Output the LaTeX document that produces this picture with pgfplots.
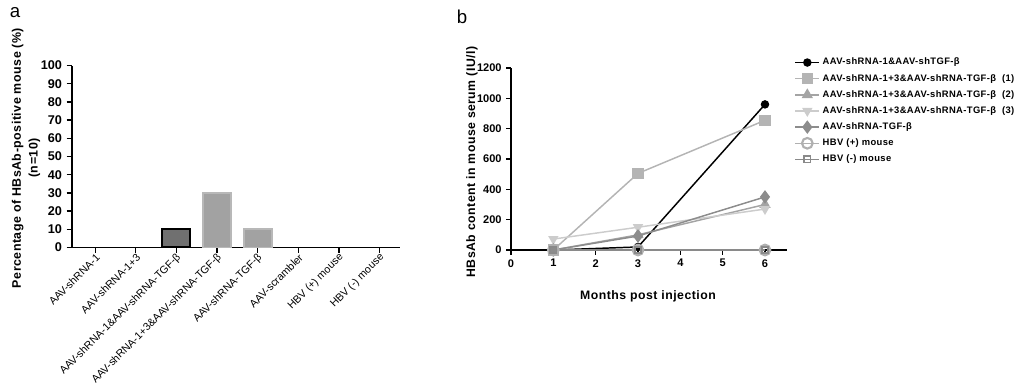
\documentclass[border=0pt]{standalone}
\usepackage{pgfplots}
\pgfplotsset{compat=1.18}
\usepackage{fontspec}
\setmainfont{Liberation Sans}
\newfontfamily\spaced[LetterSpace=4]{Liberation Sans}
\definecolor{barA}{HTML}{707070}
\definecolor{barB}{HTML}{A2A2A2}
\definecolor{barBe}{HTML}{B8B8B8}
\definecolor{sB}{HTML}{B4B4B4}
\definecolor{sC}{HTML}{A4A4A4}
\definecolor{sD}{HTML}{CCCCCC}
\definecolor{sE}{HTML}{8C8C8C}
\definecolor{sF}{HTML}{B0B0B0}
\definecolor{sG}{HTML}{8A8A8A}
\begin{document}
\begin{tikzpicture}
\path[use as bounding box] (0,0) rectangle (762.75pt,294pt);
\node[font=\fontsize{14}{16}\selectfont] at (11.25pt,284.25pt) {a};
\node[font=\fontsize{14}{16}\selectfont] at (346.5pt,281.25pt) {b};
\node[rotate=90,align=center,font=\fontsize{9.3}{12.5}\selectfont\spaced\bfseries] at (19.5pt,175.5pt) {Percentage of HBsAb-positive mouse (\%)\\(n=10)};
\node[rotate=90,font=\fontsize{9.2}{10}\selectfont\spaced\bfseries] at (354pt,172.5pt) {HBsAb content in mouse serum (IU/l)};
\node[font=\fontsize{9.2}{10}\selectfont\spaced\bfseries] at (486pt,72pt) {Months post injection};

% Panel a
\begin{axis}[
  at={(54pt,108.4pt)}, anchor=south west,
  scale only axis, width=246pt, height=136.4pt,
  xmin=-0.57, xmax=7.5, ymin=0, ymax=100,
  axis x line*=bottom, axis y line*=left,
  axis line style={line width=1.2pt,-},
  tick style={line width=1pt,black}, tick align=outside,
  major tick length=4pt,
  ytick={0,10,...,100},
  xtick={0,1,2,3,4,5,6,7},
  xticklabels={AAV-shRNA-1,AAV-shRNA-1+3,AAV-shRNA-1\&AAV-shRNA-TGF-β,AAV-shRNA-1+3\&AAV-shRNA-TGF-β,AAV-shRNA-TGF-β,AAV-scrambler,HBV (+) mouse,HBV (-) mouse},
  xticklabel style={rotate=45,anchor=east,font=\fontsize{8}{9}\selectfont,inner sep=1pt,yshift=-3pt,xshift=1pt},
  yticklabel style={font=\fontsize{9.5}{10}\selectfont\bfseries},
  /pgf/number format/assume math mode=true,
  ybar, bar width=21pt, bar shift=0pt,
  clip=false,
]
\addplot[fill=barA,draw=black,line width=1.5pt] coordinates {(2,10)};
\addplot[fill=barB,draw=barBe,line width=1.2pt] coordinates {(3,30)};
\addplot[fill=barB,draw=barBe,line width=1.2pt] coordinates {(4,10)};
\end{axis}

% Panel b
\begin{axis}[
  at={(383.25pt,106.5pt)}, anchor=south west,
  scale only axis, width=207pt, height=136.5pt,
  xmin=0, xmax=6.52, ymin=0, ymax=1200,
  axis x line*=bottom, axis y line*=left,
  axis line style={line width=1.2pt,-},
  tick style={line width=1pt,black}, tick align=outside,
  major tick length=3.5pt,
  xtick={0,1,...,6}, ytick={0,200,...,1200},
  ticklabel style={font=\fontsize{8.3}{9}\selectfont\bfseries},
  /pgf/number format/assume math mode=true,
  /pgf/number format/1000 sep={},
  clip=false,
  legend cell align=left,
  legend style={at={(1.012,1.085)},anchor=north west,draw=none,fill=none,
    font=\fontsize{7.05}{8}\selectfont\spaced\bfseries,row sep=1.5pt,
    /tikz/every even column/.append style={column sep=5pt}},
  legend image code/.code={\draw[#1] (0pt,0pt) -- (9pt,0pt) plot coordinates {(9pt,0pt)} -- (18pt,0pt);},
]
\addplot[black,line width=1.1pt,mark=*,mark size=2.6pt] coordinates {(1,0) (3,20) (6,960)};
\addlegendentry{AAV-shRNA-1\&AAV-shTGF-β}
\addplot[sB,line width=1.1pt,mark=square*,mark size=3.6pt] coordinates {(1,0) (3,505) (6,855)};
\addlegendentry{AAV-shRNA-1+3\&AAV-shRNA-TGF-β\ \ (1)}
\addplot[sC,line width=1.1pt,mark=triangle*,mark size=3.8pt] coordinates {(1,0) (3,100) (6,300)};
\addlegendentry{AAV-shRNA-1+3\&AAV-shRNA-TGF-β\ \ (2)}
\addplot[sD,line width=1.1pt,mark=triangle*,mark size=3.4pt,mark options={rotate=180}] coordinates {(1,72) (3,150) (6,270)};
\addlegendentry{AAV-shRNA-1+3\&AAV-shRNA-TGF-β\ \ (3)}
\addplot[sE,line width=1.1pt,mark=diamond*,mark size=4.2pt] coordinates {(1,0) (3,92) (6,350)};
\addlegendentry{AAV-shRNA-TGF-β}
\addplot[sF,line width=1.1pt,mark=o,mark size=4pt,mark options={line width=1.6pt,fill=white}] coordinates {(1,0) (3,0) (6,0)};
\addlegendentry{HBV (+) mouse}
\addplot[sG,line width=1.1pt,mark=square,mark size=2.4pt,mark options={line width=1.3pt,fill=white}] coordinates {(1,0) (3,0) (6,0)};
\addlegendentry{HBV (-) mouse}
\end{axis}
\end{tikzpicture}
\end{document}
